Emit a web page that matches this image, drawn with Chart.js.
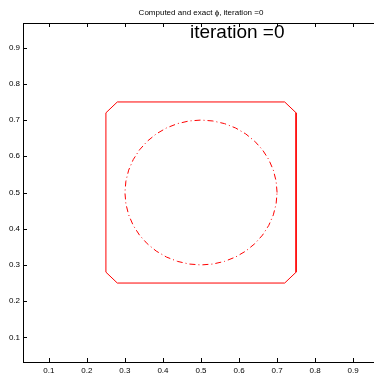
<!DOCTYPE html>
<html>
<head>
<meta charset="utf-8">
<script src="https://cdn.jsdelivr.net/npm/chart.js@4.4.1/dist/chart.umd.min.js"></script>
<style>
  html, body { margin: 0; padding: 0; background: #fff; overflow: hidden; }
  .wrap { position: relative; width: 382px; height: 377px; }
</style>
</head>
<body>
<div class="wrap"><canvas id="phi"></canvas></div>
<script>
const TITLE = "Computed and exact \u03d5, iteration =0";
const LABEL = "iteration =0";
const LABEL_POS = { x: 0.471, y: 0.927 };

const X_RANGE = [0.032, 0.968];
const Y_RANGE = [0.032, 0.968];
const X_TICKS = [0.1, 0.2, 0.3, 0.4, 0.5, 0.6, 0.7, 0.8, 0.9];
const Y_TICKS = [0.1, 0.2, 0.3, 0.4, 0.5, 0.6, 0.7, 0.8, 0.9];

// computed level set: square with clipped corners
const SQUARE_X = [0.25, 0.25, 0.28, 0.72, 0.75, 0.75, 0.72, 0.28, 0.25];
const SQUARE_Y = [0.28, 0.72, 0.75, 0.75, 0.72, 0.28, 0.25, 0.25, 0.28];

// exact level set: circle of radius 0.2 about (0.5, 0.5)
const CIRCLE_X = [
  0.7, 0.6975, 0.6902, 0.6782, 0.6618, 0.6414, 0.6176, 0.5908, 0.5618, 0.5313,
  0.5, 0.4687, 0.4382, 0.4092, 0.3824, 0.3586, 0.3382, 0.3218, 0.3098, 0.3025,
  0.3, 0.3025, 0.3098, 0.3218, 0.3382, 0.3586, 0.3824, 0.4092, 0.4382, 0.4687,
  0.5, 0.5313, 0.5618, 0.5908, 0.6176, 0.6414, 0.6618, 0.6782, 0.6902, 0.6975, 0.7
];
const CIRCLE_Y = [
  0.5, 0.5313, 0.5618, 0.5908, 0.6176, 0.6414, 0.6618, 0.6782, 0.6902, 0.6975,
  0.7, 0.6975, 0.6902, 0.6782, 0.6618, 0.6414, 0.6176, 0.5908, 0.5618, 0.5313,
  0.5, 0.4687, 0.4382, 0.4092, 0.3824, 0.3586, 0.3382, 0.3218, 0.3098, 0.3025,
  0.3, 0.3025, 0.3098, 0.3218, 0.3382, 0.3586, 0.3824, 0.4092, 0.4382, 0.4687, 0.5
];

const FONT = "'Liberation Sans Narrow', 'Liberation Sans', Arial, sans-serif";

const toPoints = (xs, ys) => xs.map((x, i) => ({ x, y: ys[i] }));

// MATLAB-style box: inward ticks, top border, title and text label
const boxPlugin = {
  id: "box",
  afterDraw(chart) {
    const { ctx, chartArea: a, scales } = chart;
    ctx.save();
    ctx.strokeStyle = "#000";
    ctx.lineWidth = 1;
    ctx.beginPath();
    ctx.moveTo(a.left, a.top + 0.5);
    ctx.lineTo(a.right, a.top + 0.5);
    ctx.moveTo(a.right - 0.5, a.top);
    ctx.lineTo(a.right - 0.5, a.bottom);
    X_TICKS.forEach((v) => {
      const px = Math.round(scales.x.getPixelForValue(v)) + 0.5;
      ctx.moveTo(px, a.bottom);
      ctx.lineTo(px, a.bottom - 4);
      ctx.moveTo(px, a.top);
      ctx.lineTo(px, a.top + 4);
    });
    Y_TICKS.forEach((v) => {
      const py = Math.round(scales.y.getPixelForValue(v)) + 0.5;
      ctx.moveTo(a.left, py);
      ctx.lineTo(a.left + 4, py);
      ctx.moveTo(a.right, py);
      ctx.lineTo(a.right - 4, py);
    });
    ctx.stroke();

    ctx.fillStyle = "#000";
    ctx.textAlign = "center";
    ctx.textBaseline = "alphabetic";
    ctx.font = "8px " + FONT;
    ctx.fillText(TITLE, (a.left + a.right) / 2, 15);

    ctx.textAlign = "left";
    ctx.font = "19px " + FONT;
    ctx.fillText(
      LABEL,
      scales.x.getPixelForValue(LABEL_POS.x),
      scales.y.getPixelForValue(LABEL_POS.y)
    );
    ctx.restore();
  },
};

const fixedTicks = (values) => (scale) => {
  scale.ticks = values.map((value) => ({ value }));
};

new Chart(document.getElementById("phi"), {
  type: "scatter",
  data: {
    datasets: [
      {
        label: "computed",
        data: toPoints(SQUARE_X, SQUARE_Y),
        showLine: true,
        borderColor: "rgb(255, 0, 0)",
        borderWidth: 1,
        pointRadius: 0,
        tension: 0,
      },
      {
        label: "exact",
        data: toPoints(CIRCLE_X, CIRCLE_Y),
        showLine: true,
        borderColor: "rgb(255, 0, 0)",
        borderWidth: 1,
        borderDash: [6, 3, 1, 3],
        pointRadius: 0,
        tension: 0,
      },
    ],
  },
  options: {
    responsive: true,
    maintainAspectRatio: false,
    animation: false,
    layout: { padding: { top: 23, right: 3, left: 0, bottom: 0 } },
    plugins: {
      legend: { display: false },
      tooltip: { enabled: false },
      title: { display: false },
    },
    scales: {
      x: {
        type: "linear",
        min: X_RANGE[0],
        max: X_RANGE[1],
        afterBuildTicks: fixedTicks(X_TICKS),
        afterFit: (s) => { s.height = 15; },
        grid: { display: false, drawTicks: false, tickLength: 0 },
        border: { display: true, color: "#000", width: 1 },
        ticks: {
          color: "#000",
          padding: 4,
          maxRotation: 0,
          autoSkip: false,
          font: { size: 8, family: FONT },
          callback: (v) => v.toFixed(1),
        },
      },
      y: {
        type: "linear",
        min: Y_RANGE[0],
        max: Y_RANGE[1],
        afterBuildTicks: fixedTicks(Y_TICKS),
        afterFit: (s) => { s.width = 23; },
        grid: { display: false, drawTicks: false, tickLength: 0 },
        border: { display: true, color: "#000", width: 1 },
        ticks: {
          color: "#000",
          padding: 3,
          autoSkip: false,
          font: { size: 8, family: FONT },
          callback: (v) => v.toFixed(1),
        },
      },
    },
  },
  plugins: [boxPlugin],
});
</script>
</body>
</html>
